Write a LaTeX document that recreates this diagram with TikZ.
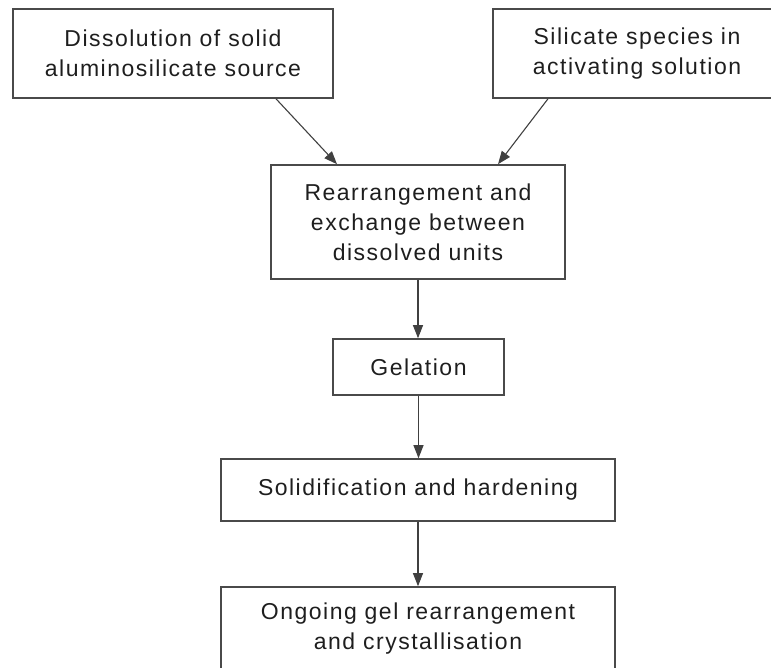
\documentclass[tikz,border=0pt]{standalone}
\usepackage{fontspec}
\setmainfont[LetterSpace=6.5]{Liberation Sans}
\usetikzlibrary{arrows.meta}
\definecolor{boxline}{HTML}{4A4A4A}
\definecolor{txt}{HTML}{1E1E1E}
\tikzset{
  box/.style={draw=boxline, line width=1.6pt, inner sep=0pt, align=center,
    text=txt, font=\fontsize{23}{30}\selectfont, anchor=center},
  arr/.style={draw=black!75, line width=1.1pt, -{Triangle[length=13pt,width=10pt]}}
}
\begin{document}
\begin{tikzpicture}[x=1pt,y=-1pt]
\useasboundingbox (0,0) rectangle (771,668);
\clip (0,0) rectangle (771,668);
\node[box, minimum width=320pt, minimum height=89pt] (b1) at (173,53.5)
  {Dissolution of solid\\aluminosilicate source};
\node[box, minimum width=288pt, minimum height=89pt] (b2) at (637,53.5)
  {Silicate species in\\activating solution};
\node[box, minimum width=294pt, minimum height=114pt] (b3) at (418,222)
  {Rearrangement and\\exchange between\\dissolved units};
\node[box, minimum width=171pt, minimum height=56pt] (b4) at (418.5,367)
  {Gelation};
\node[box, minimum width=394pt, minimum height=62pt] (b5) at (418,490)
  {Solidification and hardening};
\node[box, minimum width=394pt, minimum height=84pt] (b6) at (418,629)
  {Ongoing gel rearrangement\\and crystallisation};
\draw[arr] ([xshift=103pt]b1.south) -- ([xshift=-81pt]b3.north);
\draw[arr] ([xshift=-89pt]b2.south) -- ([xshift=80pt]b3.north);
\draw[arr] (b3.south) -- (b3.south |- b4.north);
\draw[arr] (b4.south) -- (b4.south |- b5.north);
\draw[arr] (b5.south) -- (b5.south |- b6.north);
\end{tikzpicture}
\end{document}
